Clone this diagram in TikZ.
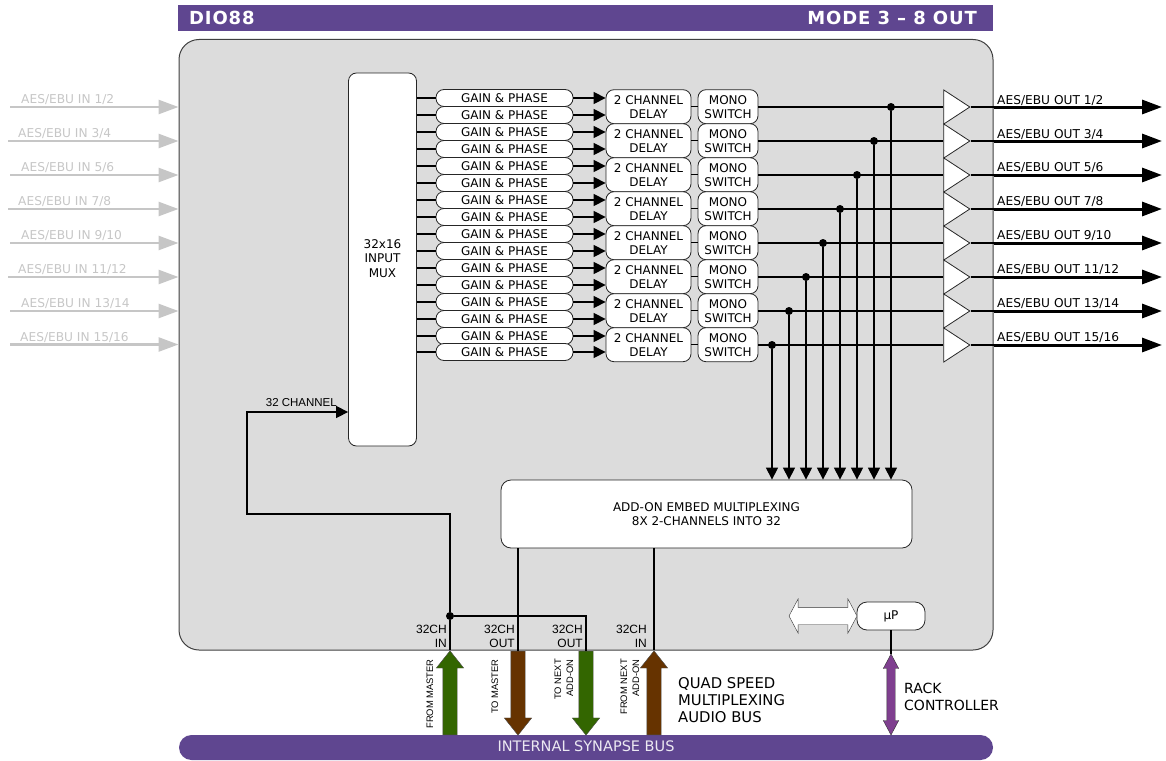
\documentclass[tikz,border=0pt]{standalone}
\usepackage{fontspec}
\setmainfont{DejaVu Sans}
\newfontfamily\arialfont{Liberation Sans}
\usetikzlibrary{arrows.meta,shapes.geometric,shapes.arrows}
\definecolor{synapse}{HTML}{5F4690}
\definecolor{panel}{HTML}{DCDCDC}
\definecolor{faded}{HTML}{C6C6C6}
\definecolor{busgreen}{HTML}{336600}
\definecolor{busbrown}{HTML}{663300}
\definecolor{rackpurple}{HTML}{7F3F8F}
\tikzset{
  blockbox/.style={draw=black!85, line width=0.8pt, fill=white, inner sep=0pt, align=center, font=\fontsize{12}{14}\selectfont},
  gainbox/.style={blockbox, rounded corners=8pt, minimum width=137pt, minimum height=17pt},
  delaybox/.style={blockbox, rounded corners=8pt, minimum width=85pt, minimum height=34pt},
  monobox/.style={blockbox, rounded corners=8pt, minimum width=60pt, minimum height=34pt},
  ampbox/.style={draw=black!85, line width=0.8pt, fill=white, isosceles triangle, isosceles triangle stretches, inner sep=0pt, minimum width=34pt, minimum height=26pt},
  titletext/.style={text=white, inner sep=0pt, font=\bfseries\fontsize{18}{20}\selectfont\addfontfeature{LetterSpace=4.7}},
  wire/.style={line width=1.3pt},
  tipped/.style={wire, -{Triangle[length=12pt,width=12pt]}},
  inline/.style={line width=2.6pt, faded, -{Triangle[length=20pt,width=14pt]}},
  outline/.style={line width=3pt, -{Triangle[length=20pt,width=14pt]}},
  dot/.style={circle, fill=black, inner sep=0pt, minimum size=8pt},
  fatarrow/.style={single arrow, draw=black!70, inner xsep=0pt, inner ysep=7pt, minimum width=27pt, minimum height=84pt, single arrow head extend=6.5pt, single arrow tip angle=77},
  rackarrow/.style={double arrow, draw=black!80, fill=rackpurple, inner xsep=0pt, inner ysep=4pt, minimum width=15pt, minimum height=81pt, double arrow head extend=3.5pt, double arrow tip angle=56},
  linkarrow/.style={double arrow, draw=black!80, fill=white, inner xsep=0pt, inner ysep=8.5pt, minimum width=34pt, minimum height=68pt, double arrow head extend=8.5pt, double arrow tip angle=124},
  portlabel/.style={font=\arialfont\fontsize{12}{14}\selectfont, align=right, anchor=east, inner sep=0pt},
  sidelabel/.style={font=\arialfont\fontsize{9.4}{12}\selectfont, align=right, rotate=90, anchor=east, inner sep=0pt},
  buslabel/.style={font=\fontsize{14}{17}\selectfont, align=left, anchor=west, inner sep=0pt},
  aeslabel/.style={anchor=west, inner sep=0pt, font=\fontsize{12.2}{14}\selectfont},
}
\begin{document}
\begin{tikzpicture}[x=1pt,y=-1pt]
\useasboundingbox (0,0) rectangle (1166,760);

\node[fill=synapse, minimum width=815pt, minimum height=26pt, inner sep=0pt] at (585.5,18) (title) {};
\node[titletext, anchor=west] at (189,18) (titlea) {DIO88};
\node[titletext, anchor=east] at (977,18) (titleb) {MODE 3 -- 8 OUT};

\node[draw=black!75, fill=panel, rounded corners=20pt, line width=1pt, minimum width=814pt, minimum height=610.5pt, inner sep=0pt] at (586,344.75) (main) {};
\node[fill=synapse, rounded corners=12.5pt, minimum width=814pt, minimum height=25pt, inner sep=0pt] at (586,747.5) (bus) {};
\node[text=white!88!synapse, inner sep=0pt, font=\fontsize{14.5}{17}\selectfont] at (586,746) (buslab) {INTERNAL SYNAPSE BUS};

\node[blockbox, rounded corners=8pt, minimum width=68pt, minimum height=373pt] at (382.5,259.5) (mux) {};
\node[inner sep=0pt, align=center, font=\fontsize{12}{14.3}\selectfont] at (382.5,258.5) (muxlab) {32x16\\INPUT\\MUX};
\node[blockbox, rounded corners=10pt, minimum width=411pt, minimum height=68pt] at (706.5,514) (addon) {ADD-ON EMBED MULTIPLEXING\\8X 2-CHANNELS INTO 32};
\node[blockbox, rounded corners=10pt, minimum width=68pt, minimum height=28pt] at (891,616) (micro) {µP};

% gain & phase rows
\foreach \gn/\ypos in {1/98,2/115,3/132,4/149,5/166,6/183,7/200,8/217,9/234,10/251,11/268,12/285,13/302,14/319,15/336,16/352}
  \node[gainbox] at (504.5,\ypos) (gain\gn) {GAIN \& PHASE};

% one output channel per row
\foreach \row/\ypos/\tapx in {1/107/891,2/141/874,3/175/857,4/209/840,5/243/823,6/277/806,7/311/789,8/345/772} {
  \node[delaybox] at (648.5,\ypos-0.3) (delay\row) {2 CHANNEL\\DELAY};
  \node[monobox] at (728,\ypos-0.3) (mono\row) {MONO\\SWITCH};
  \node[ampbox] at (953,\ypos) (amp\row) {};
  \coordinate (out\row) at (1162,\ypos);
  \node[dot] at (\tapx,\ypos) (tap\row) {};
  \draw[wire] (delay\row.east |- mono\row) -- (mono\row.west);
  \draw[wire] (mono\row.east |- amp\row) -- (amp\row.west);
  \draw[wire] (amp\row.apex) -- (main.east |- amp\row);
  \draw[outline] (main.east |- amp\row) -- (out\row);
  \draw[tipped] (tap\row) -- (tap\row |- addon.north);
}

\foreach \gn/\dl in {1/1,2/1,3/2,4/2,5/3,6/3,7/4,8/4,9/5,10/5,11/6,12/6,13/7,14/7,15/8,16/8} {
  \draw[wire] (mux.east |- gain\gn) -- (gain\gn.west);
  \draw[tipped] (gain\gn.east) -- (delay\dl.west |- gain\gn);
}

% inputs
\foreach \row/\ypos/\xlab/\xarr/\lo/\hi in {1/107/21/10/1/2,2/141/18/8/3/4,3/175/21/10/5/6,4/209/18/8/7/8,5/243/21/10/9/10,6/277/18/8/11/12,7/311/21/10/13/14,8/344.5/20/10/15/16} {
  \coordinate (in\row) at (\xarr,\ypos);
  \draw[inline] (in\row) -- (main.west |- in\row);
  \node[aeslabel, text=faded] at (\xlab,\ypos-7) (inlab\row) {AES/EBU IN \lo/\hi};
}
\foreach \row/\ypos/\lo/\hi in {1/100.5/1/2,2/134.5/3/4,3/167.5/5/6,4/201.5/7/8,5/235.5/9/10,6/269.5/11/12,7/303.5/13/14,8/337.5/15/16}
  \node[aeslabel] at (997,\ypos) (outlab\row) {AES/EBU OUT \lo/\hi};

% bus arrows
\node[fatarrow, fill=busgreen, rotate=90, anchor=tail] at (450,735) (fromm) {};
\node[fatarrow, fill=busbrown, rotate=-90, anchor=tail] at (518,651) (tom) {};
\node[fatarrow, fill=busgreen, rotate=-90, anchor=tail] at (586,651) (tonext) {};
\node[fatarrow, fill=busbrown, rotate=90, anchor=tail] at (654,735) (fromnext) {};
\node[rackarrow, rotate=90] at (891,694.5) (rack) {};
\node[linkarrow] at (823,616) (link) {};

\node[dot] at (450,616) (split) {};
\coordinate (corna) at (450,514);
\coordinate (cornb) at (247,514);
\coordinate (cornc) at (247,412);
\coordinate (cornd) at (586,616);
\draw[tipped] (split) -- (corna) -- (cornb) -- (cornc) -- (mux.west |- cornc);
\draw[wire] (split) -- (fromm.tip);
\draw[wire] (split) -- (cornd) -- (tonext.tail);
\draw[wire] (addon.south -| tom.tail) -- (tom.tail);
\draw[wire] (addon.south -| fromnext.tip) -- (fromnext.tip);
\draw[wire] (micro.south) -- (rack.tip 1);

\node[inner sep=0pt, anchor=east, font=\arialfont\fontsize{11.5}{14}\selectfont] at (337,403) (chanlab) {32 CHANNEL};
\node[portlabel] at (447,636) (porta) {32CH\\IN};
\node[portlabel] at (515,636) (portb) {32CH\\OUT};
\node[portlabel] at (583,636) (portc) {32CH\\OUT};
\node[portlabel] at (647,636) (portd) {32CH\\IN};

\node[sidelabel] at (430,659) (sidea) {FROM MASTER};
\node[sidelabel] at (495,659) (sideb) {TO MASTER};
\node[sidelabel] at (564,659) (sidec) {TO NEXT\\ADD-ON};
\node[sidelabel] at (630,659) (sided) {FROM NEXT\\ADD-ON};

\node[buslabel, font=\fontsize{14.8}{17}\selectfont] at (678,700) (quadlab) {QUAD SPEED\\MULTIPLEXING\\AUDIO BUS};
\node[buslabel] at (904,696.5) (racklab) {RACK\\CONTROLLER};
\end{tikzpicture}
\end{document}
